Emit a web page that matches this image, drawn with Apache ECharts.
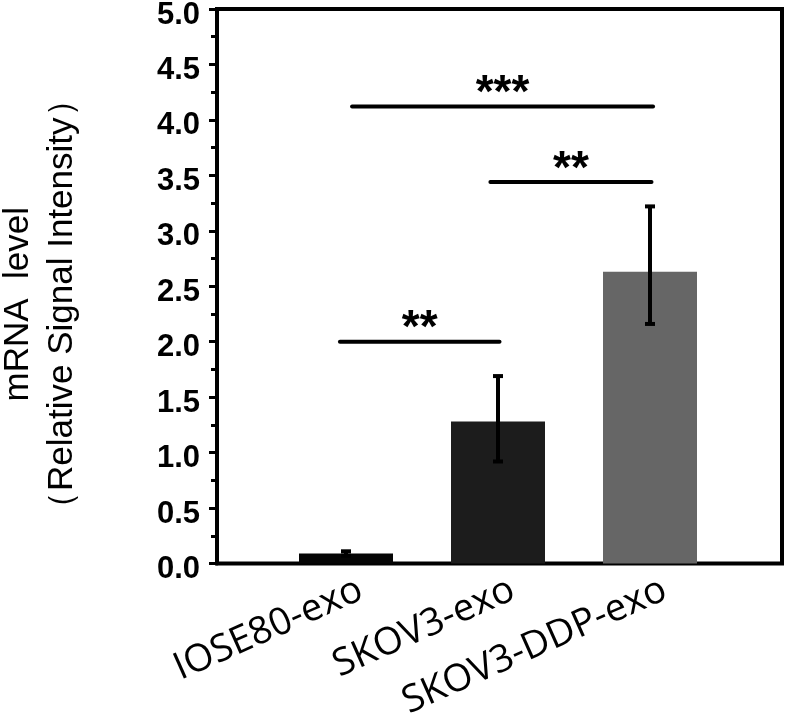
<!DOCTYPE html>
<html>
<head>
<meta charset="utf-8">
<script src="https://cdn.jsdelivr.net/npm/echarts@6/dist/echarts.min.js"></script>
<style>html,body{margin:0;padding:0;background:#fff}#c{width:787px;height:724px}</style>
</head>
<body>
<div id="c"></div>
<script>
const categories = ['IOSE80-exo', 'SKOV3-exo', 'SKOV3-DDP-exo'];
const means = [0.09, 1.28, 2.63];
const errUpper = [0.11, 1.69, 3.22];
const errLower = [0.07, 0.92, 2.16];
const barColors = ['#050505', '#1c1c1c', '#666666'];
const yTicks = [0, 0.5, 1.0, 1.5, 2.0, 2.5, 3.0, 3.5, 4.0, 4.5, 5.0];
// significance brackets: [x start (category index), x end, y level, label]
const sigStart = [-0.04, 0.95, 0.04];
const sigEnd = [1.01, 2.01, 2.02];
const sigLevel = [2.0, 3.44, 4.12];
const sigLabel = ['**', '**', '***'];

const chart = echarts.init(document.getElementById('c'), null, {renderer: 'canvas'});
const gridBottom = 160.5;
const option = {
  backgroundColor: '#fff',
  animation: false,
  grid: [
    {left: 217, right: 5, top: 9, bottom: gridBottom, show: true, borderColor: '#000', borderWidth: 4,
     backgroundColor: 'transparent', containLabel: false, outerBoundsMode: 'none'},
    {left: 270, right: 61, top: 9, bottom: gridBottom, containLabel: false, outerBoundsMode: 'none'}
  ],
  xAxis: [
    {gridIndex: 0, type: 'value', min: 0, max: 1, show: false},
    {gridIndex: 1, type: 'category', data: categories,
     axisLine: {show: false}, axisTick: {show: false},
     axisLabel: {rotate: 24, margin: 31, padding: [0, -16, 0, 0], fontFamily: 'Open Sans', fontSize: 38, color: '#000', interval: 0}},
    {gridIndex: 1, type: 'value', min: -0.5, max: 2.5, show: false}
  ],
  yAxis: [
    {gridIndex: 0, type: 'value', min: 0, max: 5, interval: 0.5,
     name: 'mRNA  level\n（Relative Signal Intensity）', nameLocation: 'middle', nameGap: 133,
     nameTextStyle: {fontFamily: 'Liberation Sans', fontSize: 35, color: '#000', lineHeight: 44, padding: [0, 36, 0, 0]},
     axisLine: {show: true, lineStyle: {color: '#000', width: 4}},
     axisTick: {show: true, length: 8, lineStyle: {color: '#000', width: 3}},
     minorTick: {show: true, splitNumber: 2, length: 6, lineStyle: {color: '#000', width: 3}},
     splitLine: {show: false},
     axisLabel: {margin: 17, verticalAlign: 'top', lineHeight: 12, fontFamily: 'Liberation Sans', fontWeight: 'bold', fontSize: 31, color: '#000',
       formatter: v => v.toFixed(1)}},
    {gridIndex: 1, type: 'value', min: 0, max: 5, show: false}
  ],
  series: [
    {type: 'bar', xAxisIndex: 1, yAxisIndex: 1, barWidth: 94,
     data: means.map((v, i) => ({value: v, itemStyle: {color: barColors[i]}}))},
    {type: 'custom', xAxisIndex: 1, yAxisIndex: 1, z: 5,
     data: means.map((v, i) => [i, errLower[i], errUpper[i]]),
     renderItem: (params, api) => {
       const top = api.coord([api.value(0), api.value(2)]);
       const bot = api.coord([api.value(0), api.value(1)]);
       const cw = 5;
       const st = {stroke: '#000', lineWidth: 4};
       return {type: 'group', children: [
         {type: 'line', shape: {x1: top[0], y1: top[1], x2: bot[0], y2: bot[1]}, style: st},
         {type: 'line', shape: {x1: top[0]-cw, y1: top[1], x2: top[0]+cw, y2: top[1]}, style: st},
         {type: 'line', shape: {x1: bot[0]-cw, y1: bot[1], x2: bot[0]+cw, y2: bot[1]}, style: st}
       ]};
     }},
    {type: 'custom', xAxisIndex: 2, yAxisIndex: 1, z: 5,
     data: sigLevel.map((y, i) => [sigStart[i], sigEnd[i], y, sigLabel[i]]),
     renderItem: (params, api) => {
       const a = api.coord([api.value(0), api.value(2)]);
       const b = api.coord([api.value(1), api.value(2)]);
       const lbl = sigLabel[params.dataIndex];
       return {type: 'group', children: [
         {type: 'line', shape: {x1: a[0], y1: a[1], x2: b[0], y2: b[1]}, style: {stroke: '#000', lineWidth: 4, lineCap: 'round'}},
         {type: 'text', x: (a[0]+b[0])/2, y: a[1] - 12,
          style: {text: lbl, fontFamily: 'Liberation Sans', fontWeight: 'bold', fontSize: 46, fill: '#000', align: 'center', verticalAlign: 'middle'}}
       ]};
     }}
  ]
};
chart.setOption(option);
</script>
</body>
</html>
